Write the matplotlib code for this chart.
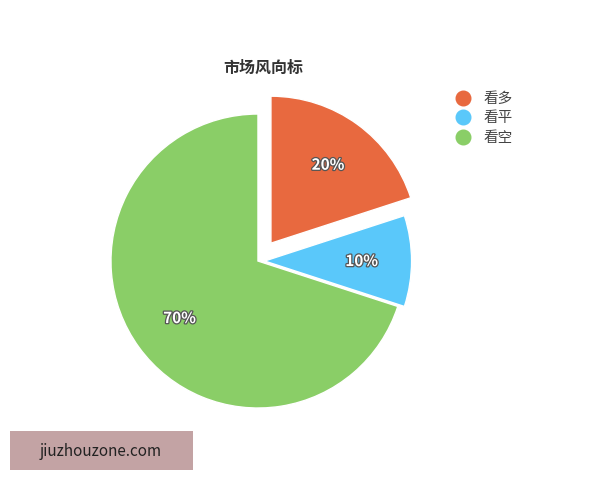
import matplotlib.pyplot as plt
import matplotlib.patheffects as pe
from matplotlib.patches import Rectangle
from matplotlib.lines import Line2D

plt.rcParams['font.family'] = ['Noto Sans CJK SC', 'DejaVu Sans']

# 数据
labels = ['看多', '看平', '看空']
values = [20, 10, 70]
colors = ['#E8693F', '#5AC8FA', '#8ACE67']
explode = [0.15, 0.045, 0]
title = '市场风向标'

fig = plt.figure(figsize=(6, 4.8), dpi=100)
ax = fig.add_axes([0.1237, 0.0734, 0.6125, 0.7656])

wedges, texts, autotexts = ax.pie(values, colors=colors, explode=explode,
                                  startangle=90, counterclock=False,
                                  autopct='%d%%', pctdistance=0.66,
                                  wedgeprops=dict(edgecolor='white', linewidth=1))
for t in autotexts:
    t.set_color('white')
    t.set_fontsize(11)
    t.set_fontweight('bold')
    t.set_path_effects([pe.withStroke(linewidth=1.8, foreground='#555555')])

fig.text(263 / 600, 1 - 68 / 480, title, ha='center', va='center',
         fontsize=11.5, fontweight='bold', color='#333333')

# 图例
handles = [Line2D([], [], marker='o', linestyle='none', markersize=10.5,
                  markerfacecolor=c, markeredgecolor=c) for c in colors]
fig.legend(handles, labels, loc='upper left', bbox_to_anchor=(443 / 600, 1 - 86 / 480),
           frameon=False, fontsize=10.5, handletextpad=0.35, labelspacing=0.38,
           labelcolor='#444444', borderaxespad=0)

# 水印
fig.patches.append(Rectangle((10 / 600, 1 - 470 / 480), 183 / 600, 39 / 480,
                             transform=fig.transFigure, facecolor='#C3A3A4',
                             edgecolor='none'))
fig.text(101 / 600, 1 - 451 / 480, 'jiuzhouzone.com', ha='center', va='center',
         fontsize=11, color='#222222')

fig.savefig('out.png', dpi=100)
